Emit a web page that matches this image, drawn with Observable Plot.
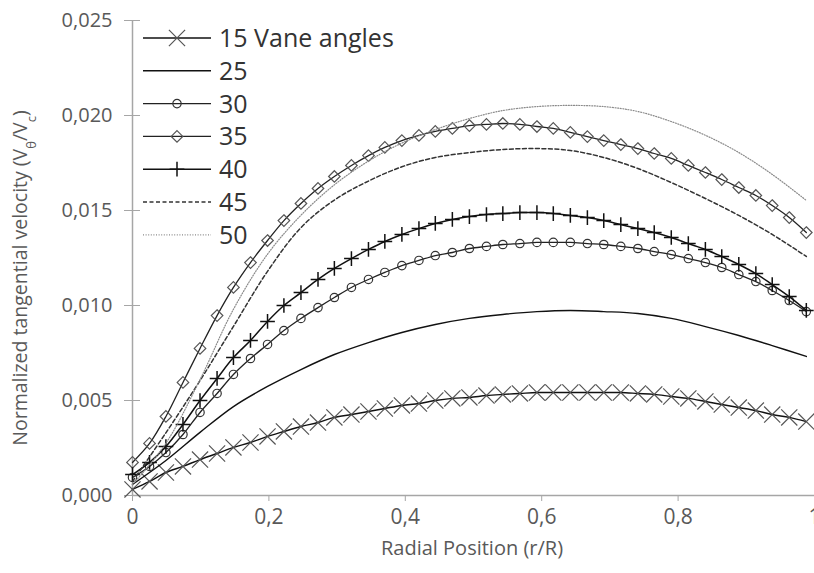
<!DOCTYPE html>
<html><head><meta charset="utf-8">
<script src="https://cdn.jsdelivr.net/npm/d3@7"></script>
<script src="https://cdn.jsdelivr.net/npm/@observablehq/plot@0.6"></script>
<style>
body{margin:0;background:#fff;}
#chart{width:814px;height:573px;overflow:hidden;}
</style></head><body><div id="chart"></div>
<script>
// Radial positions (r/R) for marked series
const rMarked = [0, 0.025, 0.049, 0.074, 0.099, 0.124, 0.148, 0.173, 0.198, 0.222, 0.247, 0.272, 0.296, 0.321, 0.346, 0.370, 0.395, 0.420, 0.444, 0.469, 0.494, 0.519, 0.543, 0.568, 0.593, 0.617, 0.642, 0.667, 0.691, 0.716, 0.741, 0.765, 0.790, 0.815, 0.840, 0.864, 0.889, 0.914, 0.938, 0.963, 0.988];
// Radial positions for unmarked series
const rLine = [0, 0.049, 0.099, 0.148, 0.198, 0.247, 0.296, 0.346, 0.395, 0.444, 0.494, 0.543, 0.593, 0.642, 0.691, 0.741, 0.790, 0.840, 0.889, 0.938, 0.988];

const v15 = [0.00032, 0.00074, 0.00121, 0.00153, 0.00189, 0.00221, 0.00253, 0.00279, 0.00311, 0.00337, 0.00363, 0.00384, 0.00411, 0.00426, 0.00442, 0.00458, 0.00474, 0.00484, 0.00500, 0.00511, 0.00516, 0.00526, 0.00532, 0.00537, 0.00542, 0.00542, 0.00542, 0.00542, 0.00542, 0.00542, 0.00537, 0.00532, 0.00521, 0.00511, 0.00495, 0.00479, 0.00463, 0.00447, 0.00426, 0.00411, 0.00389];
const v30 = [0.00095, 0.00153, 0.00226, 0.00321, 0.00437, 0.00537, 0.00637, 0.00721, 0.00795, 0.00868, 0.00932, 0.00989, 0.01042, 0.01095, 0.01137, 0.01174, 0.01210, 0.01237, 0.01263, 0.01279, 0.01300, 0.01311, 0.01321, 0.01326, 0.01332, 0.01332, 0.01332, 0.01326, 0.01321, 0.01311, 0.01300, 0.01284, 0.01268, 0.01247, 0.01226, 0.01200, 0.01163, 0.01126, 0.01079, 0.01026, 0.00968];
const v35 = [0.00174, 0.00274, 0.00416, 0.00595, 0.00774, 0.00947, 0.01095, 0.01226, 0.01342, 0.01447, 0.01537, 0.01616, 0.01679, 0.01737, 0.01789, 0.01832, 0.01868, 0.01895, 0.01916, 0.01932, 0.01947, 0.01953, 0.01958, 0.01953, 0.01942, 0.01932, 0.01911, 0.01889, 0.01868, 0.01847, 0.01826, 0.01800, 0.01774, 0.01737, 0.01700, 0.01663, 0.01621, 0.01579, 0.01526, 0.01463, 0.01384];
const v40 = [0.00110, 0.00174, 0.00258, 0.00374, 0.00500, 0.00616, 0.00726, 0.00816, 0.00916, 0.01000, 0.01068, 0.01137, 0.01195, 0.01247, 0.01295, 0.01337, 0.01374, 0.01405, 0.01432, 0.01453, 0.01468, 0.01479, 0.01484, 0.01489, 0.01489, 0.01484, 0.01474, 0.01463, 0.01447, 0.01426, 0.01405, 0.01384, 0.01358, 0.01326, 0.01295, 0.01258, 0.01216, 0.01168, 0.01110, 0.01047, 0.00974];
const v25 = [0.00058, 0.00184, 0.00332, 0.00468, 0.00574, 0.00663, 0.00742, 0.00805, 0.00858, 0.00900, 0.00932, 0.00953, 0.00968, 0.00974, 0.00968, 0.00958, 0.00932, 0.00889, 0.00842, 0.00789, 0.00732];
const v45 = [0.00074, 0.00330, 0.00605, 0.00890, 0.01180, 0.01410, 0.01555, 0.01655, 0.01730, 0.01779, 0.01805, 0.01821, 0.01826, 0.01816, 0.01779, 0.01721, 0.01647, 0.01563, 0.01474, 0.01374, 0.01258];
const v50 = [0.00058, 0.00275, 0.00610, 0.00980, 0.01270, 0.01475, 0.01635, 0.01760, 0.01855, 0.01926, 0.01984, 0.02026, 0.02047, 0.02053, 0.02047, 0.02021, 0.01968, 0.01896, 0.01805, 0.01690, 0.01553];

const seriesNames = ["15 Vane angles", "25", "30", "35", "40", "45", "50"];
const yTicks = [0, 0.005, 0.010, 0.015, 0.020, 0.025];
const yTickLabels = ["0,000", "0,005", "0,010", "0,015", "0,020", "0,025"];
const xTicks = [0, 0.2, 0.4, 0.6, 0.8, 1];
const xTickLabels = ["0", "0,2", "0,4", "0,6", "0,8", "1"];
const xTitle = "Radial Position (r/R)";
const yTitleParts = [["Normalized tangential velocity (V", false], ["θ", true], ["/V", false], ["c", true], [")", false]];

const rows = (xs, vs) => xs.map((r, i) => ({r, v: vs[i]}));
const d15 = rows(rMarked, v15), d30 = rows(rMarked, v30), d35 = rows(rMarked, v35), d40 = rows(rMarked, v40);
const d25 = rows(rLine, v25), d45 = rows(rLine, v45), d50 = rows(rLine, v50);

const FONT = "'Open Sans', sans-serif";
const axisGray = "#a6a6a6";
const textGray = "#595959";
const curve = "catmull-rom";

const styles = [
  {line: {stroke: "#111", strokeWidth: 1.4}, sym: {symbol: "times", r: 7.4, stroke: "#555", strokeWidth: 1.2}},
  {line: {stroke: "#111", strokeWidth: 1.4}},
  {line: {stroke: "#222", strokeWidth: 1.3}, sym: {symbol: "circle", r: 4.2, stroke: "#333", strokeWidth: 1.2, fill: "none"}},
  {line: {stroke: "#222", strokeWidth: 1.3}, sym: {symbol: "diamond2", r: 5.2, stroke: "#555", strokeWidth: 1.2}},
  {line: {stroke: "#111", strokeWidth: 1.5}, sym: {symbol: "plus", r: 4.8, stroke: "#111", strokeWidth: 1.5}},
  {line: {stroke: "#333", strokeWidth: 1.5, strokeDasharray: "4,2.5"}},
  {line: {stroke: "#8a8a8a", strokeWidth: 1.2, strokeDasharray: "1,1.6"}}
];

const lineMark = (data, s) => Plot.line(data, {x: "r", y: "v", curve, ...s.line});
const dotMark = (data, s) => Plot.dot(data, {x: "r", y: "v", ...s.sym});

const plot = Plot.plot({
  width: 814, height: 573,
  marginLeft: 132, marginRight: 0, marginTop: 20, marginBottom: 78,
  x: {domain: [0, 1]},
  y: {domain: [0, 0.025]},
  style: {fontFamily: FONT, fontSize: "21px", background: "#fff", color: textGray},
  marks: [
    Plot.axisX({ticks: xTicks, tickFormat: d => xTickLabels[xTicks.indexOf(d)], tickSize: 6, tickPadding: 8, stroke: axisGray, fill: textGray, label: null, fontSize: 21}),
    Plot.axisY({ticks: yTicks, tickFormat: d => yTickLabels[yTicks.indexOf(d)], tickSize: 8, tickPadding: 12, stroke: axisGray, fill: textGray, label: null, fontSize: 20}),
    Plot.axisY({ticks: yTicks, tickFormat: () => "", tickSize: 8, dx: 8, stroke: axisGray, label: null}),
    Plot.ruleY([0], {stroke: axisGray, strokeWidth: 1.5}),
    Plot.ruleX([0], {stroke: axisGray, strokeWidth: 1.5}),
    lineMark(d15, styles[0]), dotMark(d15, styles[0]),
    lineMark(d25, styles[1]),
    lineMark(d30, styles[2]), dotMark(d30, styles[2]),
    lineMark(d35, styles[3]), dotMark(d35, styles[3]),
    lineMark(d40, styles[4]), dotMark(d40, styles[4]),
    lineMark(d45, styles[5]),
    lineMark(d50, styles[6])
  ]
});

const svg = d3.select(plot);
// Axis titles
svg.append("text")
  .attr("x", 472).attr("y", 555)
  .attr("text-anchor", "middle")
  .attr("font-family", FONT).attr("font-size", 20).attr("fill", textGray)
  .text(xTitle);
const yt = svg.append("text")
  .attr("transform", "translate(27,278) rotate(-90)")
  .attr("text-anchor", "middle")
  .attr("font-family", FONT).attr("font-size", 19.5).attr("fill", textGray);
yTitleParts.forEach(([t, sub]) => {
  const ts = yt.append("tspan").text(t);
  if (sub) ts.attr("baseline-shift", "sub").attr("font-size", 13);
});

// Legend
const symMap = {times: d3.symbolTimes, circle: d3.symbolCircle, diamond2: d3.symbolDiamond2, plus: d3.symbolPlus};
const lg = svg.append("g").attr("font-family", FONT).attr("font-size", 25).attr("fill", "#333").attr("text-anchor", "start");
seriesNames.forEach((name, i) => {
  const s = styles[i];
  const y = 38 + i * 32.8;
  lg.append("line").attr("x1", 143).attr("x2", 211).attr("y1", y).attr("y2", y)
    .attr("stroke", s.line.stroke).attr("stroke-width", s.line.strokeWidth)
    .attr("stroke-dasharray", s.line.strokeDasharray || null);
  if (s.sym) {
    lg.append("path")
      .attr("d", d3.symbol(symMap[s.sym.symbol], Math.PI * s.sym.r * s.sym.r)())
      .attr("transform", `translate(177,${y})`)
      .attr("fill", "none").attr("stroke", s.sym.stroke).attr("stroke-width", s.sym.strokeWidth);
  }
  lg.append("text").attr("x", 219).attr("y", y).attr("dy", "0.36em").attr("text-anchor", "start").text(name);
});

document.getElementById("chart").appendChild(plot);
</script>
</body></html>
